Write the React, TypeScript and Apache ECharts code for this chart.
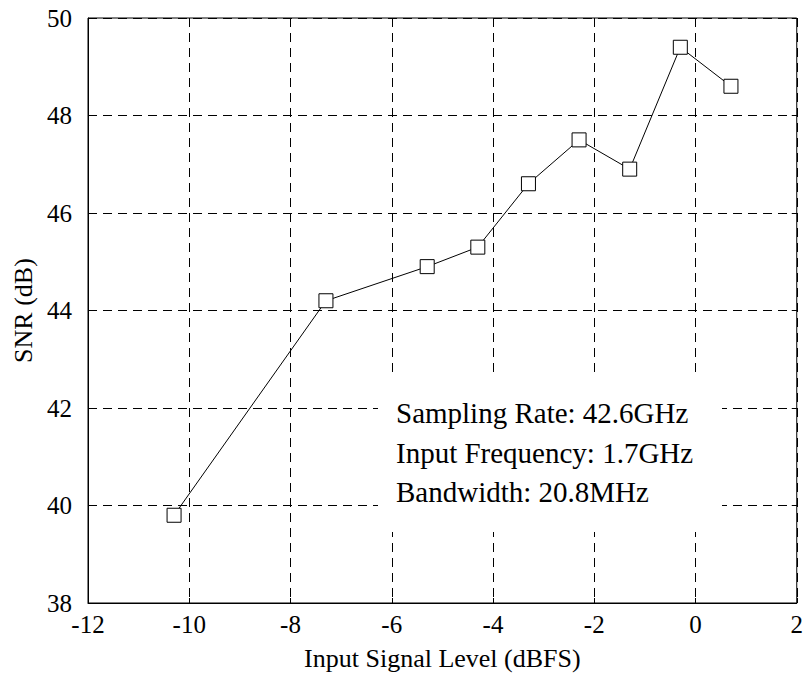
import React, { useEffect, useRef } from "react";
import * as echarts from "echarts";

const xValues = [-10.3, -7.3, -5.3, -4.3, -3.3, -2.3, -1.3, -0.3, 0.7];
const snrValues = [39.8, 44.2, 44.9, 45.3, 46.6, 47.5, 46.9, 49.4, 48.6];
const annotationLines = [
  "Sampling Rate: 42.6GHz",
  "Input Frequency: 1.7GHz",
  "Bandwidth: 20.8MHz",
];

const FONT = "'Liberation Serif', 'DejaVu Serif', serif";

export default function App() {
  const ref = useRef<HTMLDivElement>(null);
  useEffect(() => {
    if (!ref.current) return;
    const chart = echarts.init(ref.current, null, { renderer: "svg" });
    const grid = { left: 88, right: 9, top: 18, bottom: 76 };
    const splitLine = {
      show: true,
      lineStyle: { color: "#000", width: 1, type: [9, 6] as any },
    };
    const tick = { show: true, inside: true, length: 5, lineStyle: { color: "#000" } };
    chart.setOption({
      animation: false,
      backgroundColor: "#fff",
      grid: { ...grid, show: true, borderColor: "#000", borderWidth: 1 },
      xAxis: [
        {
          type: "value",
          min: -12,
          max: 2,
          interval: 2,
          name: "Input Signal Level (dBFS)",
          nameLocation: "middle",
          nameGap: 42,
          nameTextStyle: { fontFamily: FONT, fontSize: 26, color: "#000" },
          axisLine: { show: true, onZero: false, lineStyle: { color: "#000" } },
          axisTick: tick,
          axisLabel: { fontFamily: FONT, fontSize: 25, color: "#000", margin: 9 },
          splitLine,
        },
        {
          type: "value",
          position: "top",
          min: -12,
          max: 2,
          interval: 2,
          axisLine: { show: false, onZero: false },
          axisTick: tick,
          axisLabel: { show: false },
          splitLine: { show: false },
        },
      ],
      yAxis: [
        {
          type: "value",
          min: 38,
          max: 50,
          interval: 2,
          name: "SNR (dB)",
          nameLocation: "middle",
          nameGap: 51,
          nameTextStyle: { fontFamily: FONT, fontSize: 26, color: "#000" },
          axisLine: { show: true, onZero: false, lineStyle: { color: "#000" } },
          axisTick: tick,
          axisLabel: { fontFamily: FONT, fontSize: 25, color: "#000", margin: 16 },
          splitLine,
        },
        {
          type: "value",
          position: "right",
          min: 38,
          max: 50,
          interval: 2,
          axisLine: { show: false, onZero: false },
          axisTick: tick,
          axisLabel: { show: false },
          splitLine: { show: false },
        },
      ],
      graphic: [
        {
          type: "rect",
          left: 378,
          top: 373,
          shape: { width: 344, height: 159 },
          style: { fill: "#fff" },
          z: 50,
        },
        ...annotationLines.map((t, i) => ({
          type: "text",
          x: 396,
          y: 413 + i * 39.5,
          style: {
            text: t,
            fontFamily: FONT,
            fontSize: 29,
            fill: "#000",
            verticalAlign: "middle",
            align: "left",
          },
          z: 51,
        })),
      ],
      series: [
        {
          type: "line",
          data: xValues.map((x, i) => [x, snrValues[i]]),
          symbol: "rect",
          symbolSize: 14,
          showSymbol: true,
          lineStyle: { color: "#000", width: 1 },
          itemStyle: { color: "#fff", borderColor: "#000", borderWidth: 1 },
          z: 10,
        },
      ],
    });
    return () => chart.dispose();
  }, []);
  return <div ref={ref} style={{ width: 806, height: 679, position: "absolute", left: 0, top: 0 }} />;
}
